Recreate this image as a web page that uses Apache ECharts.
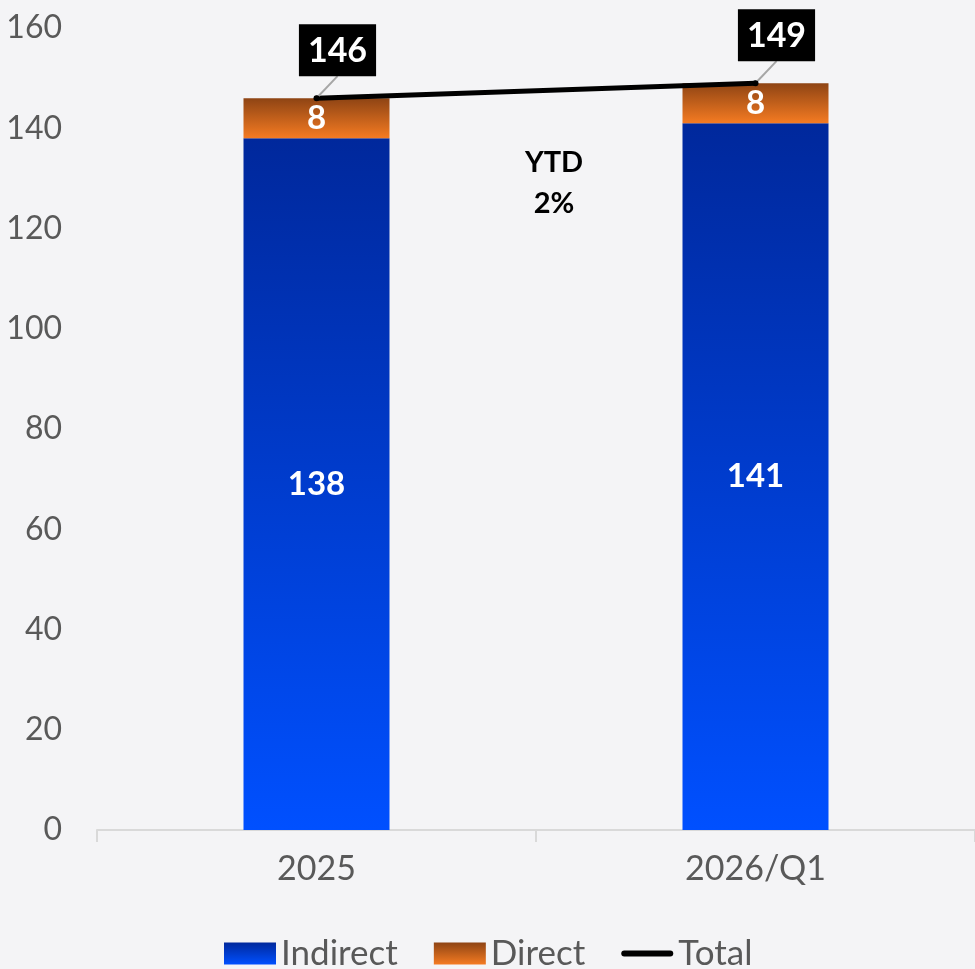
<!DOCTYPE html>
<html>
<head>
<meta charset="utf-8">
<script src="https://cdn.jsdelivr.net/npm/echarts@6/dist/echarts.min.js"></script>
<style>
  html, body { margin: 0; padding: 0; background: #f4f4f6; }
  #chart { width: 975px; height: 969px; }
</style>
</head>
<body>
<div id="chart"></div>
<script>
// Periods on the x axis
const categories = ['2025', '2026/Q1'];
// Stacked components
const indirect = [138, 141];
const direct = [8, 8];
// Totals drawn as a line over the stacks
const total = [146, 149];
// Growth note between the bars
const ytdLines = ['YTD', '2%'];

const FONT = 'Lato, "Noto Sans", sans-serif';

const blueGrad = new echarts.graphic.LinearGradient(0, 0, 0, 1, [
  { offset: 0, color: '#00289c' },
  { offset: 1, color: '#0050ff' }
]);
const orangeGrad = new echarts.graphic.LinearGradient(0, 0, 0, 1, [
  { offset: 0, color: '#8e4414' },
  { offset: 1, color: '#f57b22' }
]);

const chart = echarts.init(document.getElementById('chart'));
chart.setOption({
  backgroundColor: '#f4f4f6',
  animation: false,
  textStyle: { fontFamily: FONT },
  grid: { left: 97, right: 0, top: 28, bottom: 139, containLabel: false },
  legend: {
    top: 931,
    left: 219,
    itemWidth: 52,
    itemHeight: 22,
    itemGap: 36,
    textStyle: { fontSize: 35, color: '#595959', fontFamily: FONT },
    data: [
      { name: 'Indirect', icon: 'rect' },
      { name: 'Direct', icon: 'rect' },
      {
        name: 'Total',
        icon: 'path://M3,0 H49 A3,3 0 0 1 49,6 H3 A3,3 0 0 1 3,0 Z',
        itemStyle: { color: '#000' }
      }
    ]
  },
  xAxis: {
    type: 'category',
    data: categories,
    axisLine: { lineStyle: { color: '#d9d9d9', width: 2 } },
    axisTick: { show: true, length: 12, lineStyle: { color: '#d9d9d9', width: 2 } },
    axisLabel: { fontSize: 34, color: '#595959', margin: 22, fontFamily: FONT }
  },
  yAxis: {
    type: 'value',
    min: 0,
    max: 160,
    interval: 20,
    splitLine: { show: false },
    axisLine: { show: false },
    axisTick: { show: false },
    axisLabel: { fontSize: 32, color: '#595959', margin: 35, fontFamily: FONT }
  },
  series: [
    {
      name: 'Indirect',
      type: 'bar',
      stack: 'sum',
      barWidth: 146,
      data: indirect,
      itemStyle: { color: blueGrad },
      label: {
        show: true, position: 'inside', color: '#fff',
        fontSize: 33, fontWeight: 'bold', fontFamily: FONT
      }
    },
    {
      name: 'Direct',
      type: 'bar',
      stack: 'sum',
      barWidth: 146,
      data: direct,
      itemStyle: { color: orangeGrad },
      label: {
        show: true, position: 'inside', color: '#fff',
        fontSize: 33, fontWeight: 'bold', fontFamily: FONT
      }
    },
    {
      name: 'Total',
      type: 'line',
      data: total,
      symbol: 'circle',
      symbolSize: 6,
      itemStyle: { color: '#000' },
      lineStyle: { color: '#000', width: 5, cap: 'round' },
      z: 5,
      label: {
        show: true,
        position: 'top',
        distance: 5,
        color: '#fff',
        backgroundColor: '#000',
        fontSize: 34,
        fontWeight: 'bold',
        fontFamily: FONT,
        padding: [10, 9, 8, 9]
      },
      labelLayout: function () {
        return { dx: 21, dy: -14 };
      },
      labelLine: { show: true, lineStyle: { color: '#a6a6a6', width: 2 } }
    }
  ],
  graphic: ytdLines.map(function (t, i) {
    return {
      type: 'text',
      x: 554,
      y: 163 + i * 41,
      style: {
        text: t,
        fill: '#000',
        font: 'bold 29px ' + FONT,
        align: 'center',
        verticalAlign: 'middle'
      }
    };
  })
});
</script>
</body>
</html>
